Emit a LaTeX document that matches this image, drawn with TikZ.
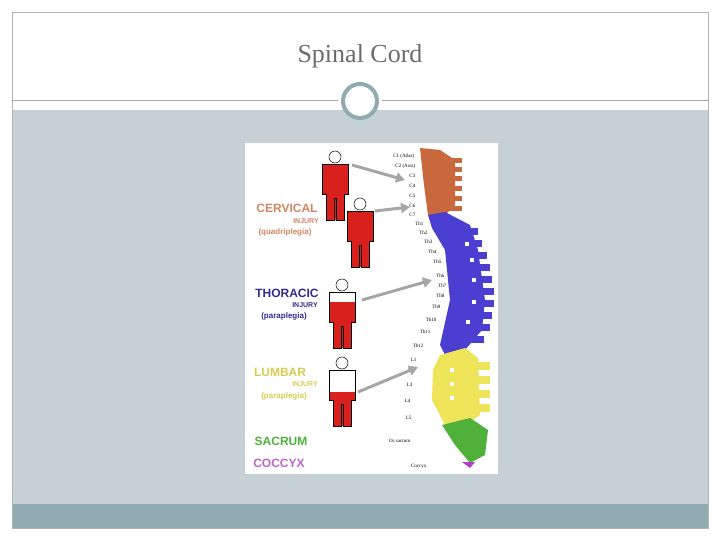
\documentclass[tikz,border=0pt]{standalone}
\usepackage{fontspec}
\setmainfont{Liberation Serif}
\setsansfont{Liberation Sans}
\usetikzlibrary{arrows.meta}
\definecolor{band}{HTML}{C5D1D7}
\definecolor{foot}{HTML}{8FAAB0}
\definecolor{cerv}{HTML}{C8683C}
\definecolor{thor}{HTML}{4A3FD0}
\definecolor{lumb}{HTML}{EDE45A}
\definecolor{sacr}{HTML}{4FB03A}
\definecolor{cocc}{HTML}{B040C0}
\definecolor{bodyred}{HTML}{D8201C}
\tikzset{
  lbl/.style={font=\sffamily\bfseries\fontsize{12}{12}\selectfont, inner sep=0pt},
  sub/.style={font=\sffamily\bfseries\fontsize{7}{7}\selectfont, inner sep=0pt},
  vl/.style={font=\fontsize{5}{5}\selectfont, inner sep=0.5pt, anchor=east},
  garrow/.style={draw=gray!70, line width=3pt, -{Triangle[length=9pt,width=10pt]}},
  fig/.style={draw=black, line width=0.5pt},
}
\begin{document}
\begin{tikzpicture}[x=1pt,y=-1pt]
\useasboundingbox (0,0) rectangle (720,540);
\fill[white] (0,0) rectangle (720,540);
\fill[band] (12,110) rectangle (708,504);
\fill[foot] (12,504) rectangle (708,528);
\draw[gray!60, line width=0.6pt] (12,12) rectangle (708,528);
\draw[gray!70, line width=0.8pt] (12,100) -- (338,100) (382,100) -- (708,100);
\node[draw=foot, line width=4pt, circle, minimum size=34pt, fill=white] (c) at (360,101) {};
\node[text=gray!85!black, font=\fontsize{26}{26}\selectfont] (title) at (360,56) {Spinal Cord};
% image
\fill[white] (245,143) rectangle (498,474);
% spine
\fill[cerv] (420,148) -- (440,150) -- (455,160) -- (455,205) -- (445,215) -- (428,215) -- (424,185) -- cycle;
\foreach \y in {158,167,176,186,196,206} \fill[cerv] (440,\y) rectangle (462,\y+5);
\fill[thor] (428,215) -- (445,212) -- (470,225) -- (478,250) -- (485,300) -- (482,330) -- (465,350) -- (445,355) -- (440,345) -- (450,300) -- (445,250) -- (432,228) -- cycle;
\foreach \y/\x in {228/478,240/482,252/487,264/490,276/492,288/494,300/494,312/492,324/490,336/484} \fill[thor] (\x-20,\y) rectangle (\x,\y+7);
\foreach \y/\x in {242/465,258/470,278/472,300/472,320/466} \fill[white] (\x,\y) rectangle (\x+4,\y+4);
\fill[lumb] (440,355) -- (465,348) -- (478,358) -- (480,415) -- (465,425) -- (445,425) -- (432,400) -- (433,370) -- cycle;
\foreach \y in {362,376,390,404} \fill[lumb] (460,\y) rectangle (490,\y+8);
\foreach \y in {368,382,396} \fill[white] (450,\y) rectangle (454,\y+4);
\fill[sacr] (442,425) -- (470,418) -- (488,430) -- (485,455) -- (470,463) -- (455,445) -- cycle;
\fill[cocc] (462,462) -- (475,462) -- (470,468) -- cycle;
% vertebra labels
\foreach \t/\x/\y in {C1 (Atlas)/415/156,C2 (Axis)/416/166,C3/416/176,C4/416/186,C5/416/196,C6/416/206,C7/416/215,Th1/424/224,Th2/428/233,Th3/433/242,Th4/437/252,Th5/442/262,Th6/445/276,Th7/447/286,Th8/445/296,Th9/441/307,Th10/437/320,Th11/431/332,Th12/424/346,L1/417/360,L2/414/371,L3/413/385,L4/411/401,L5/412/418,Os sacrum/411/441,Coccyx/427/466}
  \node[vl] at (\x,\y) {\t};
% figures: #1 x, #2 top y, #3 upper colour, #4 red start (relative)
\newcommand{\figurebody}[4]{%
  \begin{scope}[shift={(#1,#2)}]
    \fill[white] (0,7) circle (6);
    \draw[fig] (0,7) circle (6);
    \fill[#3] (-13,14) rectangle (13,44);
    \fill[bodyred] (-13,#4) rectangle (13,44);
    \fill[bodyred] (-9,#4) rectangle (9,70);
    \draw[fig] (-13,14) -- (13,14) -- (13,44) -- (9,44) -- (9,70) -- (1,70) -- (1,48) -- (-1,48) -- (-1,70) -- (-9,70) -- (-9,44) -- (-13,44) -- cycle;
  \end{scope}}
\figurebody{335}{150}{bodyred}{14}
\figurebody{360}{197}{bodyred}{16}
\figurebody{342}{278}{white}{24}
\figurebody{342}{356}{white}{36}
\coordinate (a1) at (352,165); \coordinate (b1) at (405,180);
\coordinate (a2) at (375,211); \coordinate (b2) at (410,207);
\coordinate (a3) at (362,300); \coordinate (b3) at (432,280);
\coordinate (a4) at (358,392); \coordinate (b4) at (418,367);
\draw[garrow] (a1) -- (b1);
\draw[garrow] (a2) -- (b2);
\draw[garrow] (a3) -- (b3);
\draw[garrow] (a4) -- (b4);
% region labels
\node[lbl, text=cerv!80!white] (cv) at (287,208) {CERVICAL};
\node[sub, text=cerv!80!white] at (306,221) {INJURY};
\node[sub, text=cerv!80!white, font=\sffamily\bfseries\fontsize{8}{8}\selectfont] at (285,232) {(quadriplegia)};
\node[lbl, text=thor!70!black] (th) at (287,293) {THORACIC};
\node[sub, text=thor!70!black] at (305,305) {INJURY};
\node[sub, text=thor!70!black, font=\sffamily\bfseries\fontsize{8}{8}\selectfont] at (284,316) {(paraplegia)};
\node[lbl, text=lumb!90!black] (lu) at (280,372) {LUMBAR};
\node[sub, text=lumb!90!black] at (305,384) {INJURY};
\node[sub, text=lumb!90!black, font=\sffamily\bfseries\fontsize{8}{8}\selectfont] at (284,396) {(paraplegia)};
\node[lbl, text=sacr] (sa) at (281,441) {SACRUM};
\node[lbl, text=cocc!80!white] (co) at (279,463) {COCCYX};
\end{tikzpicture}
\end{document}
